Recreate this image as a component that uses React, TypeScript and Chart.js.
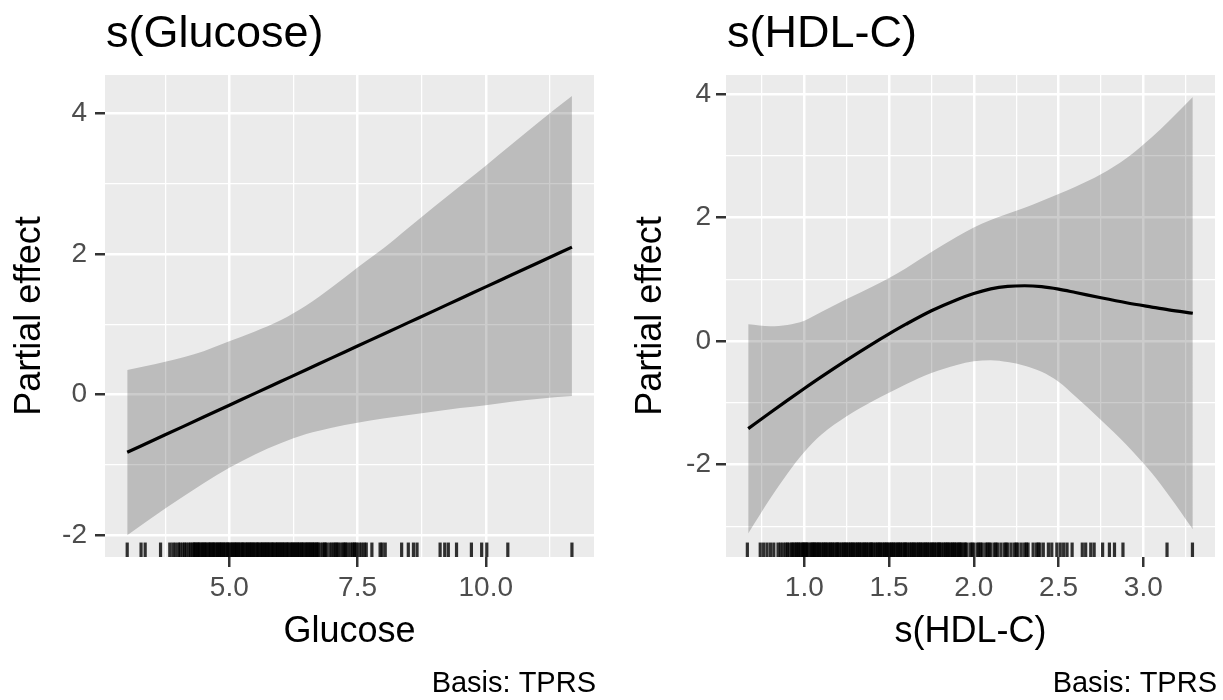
import React, { useEffect, useRef } from "react";
import { Chart, registerables } from "chart.js";

Chart.register(...registerables);

const FONT = '"Liberation Sans", Arial, Helvetica, sans-serif';

// ---------- s(Glucose) ----------
const glucoseX = [3.01, 3.75, 4.5, 5.0, 5.5, 6.0, 6.5, 7.0, 7.5, 8.0, 8.5, 9.0, 9.5, 10.0, 10.5, 11.0, 11.68];
const glucoseFit = [-0.82, -0.571, -0.318, -0.15, 0.019, 0.187, 0.355, 0.524, 0.692, 0.861, 1.029, 1.197, 1.366, 1.534, 1.703, 1.871, 2.1];
const glucoseUpper = [0.35, 0.47, 0.62, 0.76, 0.9, 1.06, 1.27, 1.53, 1.81, 2.08, 2.38, 2.68, 2.97, 3.26, 3.56, 3.86, 4.25];
const glucoseLower = [-2.0, -1.62, -1.26, -1.04, -0.85, -0.69, -0.56, -0.47, -0.4, -0.34, -0.29, -0.24, -0.19, -0.15, -0.1, -0.06, -0.02];
const glucoseRug = [
  3.01, 3.28, 3.36, 3.66, 3.84, 3.9, 3.95, 4.01, 4.04, 4.09, 4.13, 4.16, 4.21, 4.24, 4.28, 4.31, 4.34, 4.38,
  4.41, 4.45, 4.49, 4.52, 4.56, 4.6, 4.63, 4.67, 4.7, 4.74, 4.78, 4.81, 4.85, 4.88, 4.92, 4.96, 4.99, 5.03,
  5.07, 5.1, 5.14, 5.17, 5.21, 5.25, 5.28, 5.32, 5.36, 5.39, 5.43, 5.46, 5.5, 5.54, 5.57, 5.61, 5.65, 5.68,
  5.72, 5.75, 5.79, 5.83, 5.86, 5.9, 5.94, 5.97, 6.01, 6.04, 6.08, 6.12, 6.15, 6.19, 6.23, 6.26, 6.3, 6.33,
  6.37, 6.41, 6.44, 6.48, 6.52, 6.55, 6.59, 6.62, 6.66, 6.7, 6.73, 6.77, 6.82, 6.87, 6.9, 6.96, 7.0, 7.04,
  7.1, 7.13, 7.18, 7.22, 7.27, 7.31, 7.36, 7.4, 7.45, 7.48, 7.53, 7.58, 7.63, 7.67, 7.78, 7.94, 7.98, 8.04,
  8.36, 8.49, 8.59, 8.66, 9.11, 9.2, 9.27, 9.43, 9.72, 9.92, 10.02, 10.43, 11.68,
  4.33, 4.4, 4.47, 4.54, 4.62, 4.69, 4.76, 4.83, 4.9, 4.97, 5.05, 5.12, 5.19, 5.26, 5.34, 5.41, 5.48, 5.55,
  5.63, 5.7, 5.77, 5.84, 5.92, 5.99, 6.06, 6.13, 6.21, 6.28, 6.35, 6.42, 6.5, 6.57, 6.64, 6.71, 6.85, 7.07,
  7.25, 7.43,
];
const glucoseXMajor = [5, 7.5, 10];
const glucoseXMinor = [3.75, 6.25, 8.75, 11.25];
const glucoseYMajor = [-2, 0, 2, 4];
const glucoseYMinor = [-1, 1, 3];

// ---------- s(HDL-C) ----------
const hdlX = [0.669, 0.8, 0.9, 1.0, 1.1, 1.25, 1.4, 1.5, 1.6, 1.75, 1.9, 2.0, 2.1, 2.2, 2.3, 2.4, 2.5, 2.6, 2.75, 2.9, 3.05, 3.15, 3.292];
const hdlFit = [-1.42, -1.158, -0.962, -0.77, -0.582, -0.31, -0.05, 0.115, 0.272, 0.49, 0.67, 0.77, 0.845, 0.885, 0.895, 0.88, 0.84, 0.785, 0.7, 0.62, 0.55, 0.505, 0.45];
const hdlUpper = [0.27, 0.24, 0.26, 0.33, 0.47, 0.68, 0.88, 1.02, 1.18, 1.44, 1.69, 1.84, 1.96, 2.06, 2.16, 2.27, 2.38, 2.5, 2.7, 2.96, 3.3, 3.56, 3.955];
const hdlLower = [-3.12, -2.55, -2.15, -1.8, -1.52, -1.22, -0.98, -0.84, -0.7, -0.52, -0.39, -0.33, -0.31, -0.34, -0.4, -0.5, -0.66, -0.9, -1.28, -1.68, -2.14, -2.5, -3.05];
const hdlRug = [
  0.664, 0.74, 0.76, 0.78, 0.8, 0.82, 0.845, 0.86, 0.875, 0.89, 0.9, 0.91, 0.925, 0.94, 0.955, 0.97, 0.98,
  0.995, 1.01, 1.02, 1.035, 1.05, 1.06, 1.075, 1.09, 1.1, 1.115, 1.13, 1.14, 1.155, 1.17, 1.18, 1.195, 1.21,
  1.22, 1.235, 1.25, 1.26, 1.275, 1.29, 1.3, 1.315, 1.33, 1.34, 1.355, 1.37, 1.38, 1.395, 1.41, 1.42, 1.435,
  1.45, 1.46, 1.475, 1.49, 1.5, 1.515, 1.53, 1.54, 1.555, 1.57, 1.58, 1.595, 1.61, 1.62, 1.635, 1.65, 1.66,
  1.675, 1.69, 1.7, 1.715, 1.73, 1.74, 1.755, 1.77, 1.78, 1.795, 1.81, 1.82, 1.835, 1.85, 1.86, 1.875, 1.89,
  1.9, 1.915, 1.93, 1.945, 1.96, 1.98, 2.0, 2.02, 2.03, 2.05, 2.07, 2.09, 2.1, 2.12, 2.14, 2.16, 2.18, 2.2,
  2.22, 2.24, 2.26, 2.28, 2.3, 2.32, 2.35, 2.37, 2.39, 2.41, 2.44, 2.46, 2.49, 2.51, 2.53, 2.55, 2.58, 2.64,
  2.66, 2.69, 2.71, 2.76, 2.8, 2.83, 2.88, 3.14, 3.29,
  0.93, 0.95, 0.965, 0.99, 1.0, 1.015, 1.04, 1.055, 1.07, 1.085, 1.11, 1.125, 1.15, 1.165, 1.19, 1.2, 1.23,
  1.245, 1.27, 1.285, 1.31, 1.325, 1.35, 1.365, 1.39, 1.4, 1.43, 1.445, 1.47, 1.485, 1.51, 1.525, 1.55,
  1.565, 1.59, 1.6, 1.63, 1.645, 1.67, 1.685, 1.71, 1.725, 1.75, 1.765, 1.79, 1.8, 1.83, 1.845, 1.87, 1.885,
  1.91, 1.925, 1.95, 1.99, 2.04, 2.08, 2.13, 2.19, 2.25, 2.31, 2.38,
];
const hdlXMajor = [1, 1.5, 2, 2.5, 3];
const hdlXMinor = [0.75, 1.25, 1.75, 2.25, 2.75, 3.25];
const hdlYMajor = [-2, 0, 2, 4];
const hdlYMinor = [-3, -1, 1, 3];

type Spec = {
  title: string;
  xTitle: string;
  caption: string;
  x: number[];
  fit: number[];
  upper: number[];
  lower: number[];
  rug: number[];
  xMajor: number[];
  xMinor: number[];
  yMajor: number[];
  yMinor: number[];
  xMin: number;
  xMax: number;
  yMin: number;
  yMax: number;
  left: number;
  width: number;
  rightPad: number;
  yTickPad: number;
};

const HEIGHT = 700;

const specs: Spec[] = [
  {
    title: "s(Glucose)",
    xTitle: "Glucose",
    caption: "Basis: TPRS",
    x: glucoseX,
    fit: glucoseFit,
    upper: glucoseUpper,
    lower: glucoseLower,
    rug: glucoseRug,
    xMajor: glucoseXMajor,
    xMinor: glucoseXMinor,
    yMajor: glucoseYMajor,
    yMinor: glucoseYMinor,
    xMin: 2.577,
    xMax: 12.11,
    yMin: -2.31,
    yMax: 4.55,
    left: 0,
    width: 611,
    rightPad: 17,
    yTickPad: 8,
  },
  {
    title: "s(HDL-C)",
    xTitle: "s(HDL-C)",
    caption: "Basis: TPRS",
    x: hdlX,
    fit: hdlFit,
    upper: hdlUpper,
    lower: hdlLower,
    rug: hdlRug,
    xMajor: hdlXMajor,
    xMinor: hdlXMinor,
    yMajor: hdlYMajor,
    yMinor: hdlYMinor,
    xMin: 0.538,
    xMax: 3.423,
    yMin: -3.5,
    yMax: 4.31,
    left: 621,
    width: 602,
    rightPad: 8,
    yTickPad: 5,
  },
];

const isIn = (list: number[], v: number) => list.some((m) => Math.abs(m - v) < 1e-9);

function makeConfig(s: Spec): any {
  const pts = (ys: number[]) => s.x.map((x, i) => ({ x, y: ys[i] }));
  const xTicks = [...s.xMinor, ...s.xMajor].sort((a, b) => a - b);
  const yTicks = [...s.yMinor, ...s.yMajor].sort((a, b) => a - b);

  const gridFor = (major: number[]) => ({
    color: "#FFFFFF",
    lineWidth: (c: any) => (c.tick && isIn(major, c.tick.value) ? 2.5 : 1.25),
    drawTicks: true,
    tickLength: 10,
    tickWidth: 2.5,
    tickColor: (c: any) => (c.tick && isIn(major, c.tick.value) ? "#333333" : "rgba(0,0,0,0)"),
  });

  const bgPlugin = {
    id: "panelBg",
    beforeDraw(chart: any) {
      const { ctx, chartArea: a } = chart;
      ctx.save();
      ctx.fillStyle = "#FFFFFF";
      ctx.fillRect(0, 0, chart.width, chart.height);
      ctx.fillStyle = "#EBEBEB";
      ctx.fillRect(a.left, a.top, a.right - a.left, a.bottom - a.top);
      ctx.restore();
    },
  };

  const rugPlugin = {
    id: "rug",
    afterDraw(chart: any) {
      const { ctx, chartArea: a, scales } = chart;
      const len = (a.bottom - a.top) * 0.03;
      const w = 3.2;
      ctx.save();
      ctx.fillStyle = "rgba(0,0,0,0.8)";
      for (const v of s.rug) {
        const px = scales.x.getPixelForValue(v);
        ctx.fillRect(px - w / 2, a.bottom - len, w, len);
      }
      ctx.restore();
    },
  };

  const textPlugin = {
    id: "texts",
    afterDraw(chart: any) {
      const { ctx, chartArea: a } = chart;
      ctx.save();
      ctx.fillStyle = "#000000";
      ctx.textBaseline = "alphabetic";
      ctx.textAlign = "left";
      ctx.font = `45px ${FONT}`;
      ctx.fillText(s.title, a.left + 1, 47);
      ctx.textAlign = "right";
      ctx.font = `29px ${FONT}`;
      ctx.fillText(s.caption, a.right + 2, 692);
      ctx.restore();
    },
  };

  return {
    type: "line",
    data: {
      datasets: [
        {
          data: pts(s.upper),
          fill: "+1",
          backgroundColor: "rgba(0,0,0,0.2)",
          borderColor: "rgba(0,0,0,0)",
          borderWidth: 0,
          pointRadius: 0,
          cubicInterpolationMode: "monotone",
          order: 1,
        },
        {
          data: pts(s.lower),
          fill: false,
          backgroundColor: "rgba(0,0,0,0)",
          borderColor: "rgba(0,0,0,0)",
          borderWidth: 0,
          pointRadius: 0,
          cubicInterpolationMode: "monotone",
          order: 2,
        },
        {
          data: pts(s.fit),
          fill: false,
          borderColor: "#000000",
          borderWidth: 3.2,
          pointRadius: 0,
          cubicInterpolationMode: "monotone",
          order: 0,
        },
      ],
    },
    options: {
      responsive: false,
      animation: false,
      events: [],
      layout: { padding: { top: 75, right: s.rightPad, left: 0, bottom: 0 } },
      plugins: {
        legend: { display: false },
        tooltip: { enabled: false },
        title: { display: false },
      },
      scales: {
        x: {
          type: "linear",
          min: s.xMin,
          max: s.xMax,
          afterBuildTicks: (sc: any) => {
            sc.ticks = xTicks.map((v) => ({ value: v }));
          },
          afterFit: (sc: any) => {
            sc.height = HEIGHT - 557;
          },
          grid: gridFor(s.xMajor),
          border: { display: false },
          ticks: {
            autoSkip: false,
            maxRotation: 0,
            minRotation: 0,
            padding: 4,
            color: "#4D4D4D",
            font: { size: 28, family: FONT },
            callback: (v: any) => (isIn(s.xMajor, Number(v)) ? Number(v).toFixed(1) : ""),
          },
          title: {
            display: true,
            text: s.xTitle,
            color: "#000000",
            font: { size: 36, family: FONT },
            padding: { top: 0, bottom: 46 },
          },
        },
        y: {
          type: "linear",
          min: s.yMin,
          max: s.yMax,
          afterBuildTicks: (sc: any) => {
            sc.ticks = yTicks.map((v) => ({ value: v }));
          },
          afterFit: (sc: any) => {
            sc.width = 105;
          },
          grid: gridFor(s.yMajor),
          border: { display: false },
          ticks: {
            autoSkip: false,
            padding: s.yTickPad,
            color: "#4D4D4D",
            font: { size: 28, family: FONT },
            callback: (v: any) => (isIn(s.yMajor, Number(v)) ? String(Number(v)) : ""),
          },
          title: {
            display: true,
            text: "Partial effect",
            color: "#000000",
            font: { size: 36, family: FONT },
            padding: { top: 8.5, bottom: 0 },
          },
        },
      },
    },
    plugins: [bgPlugin, rugPlugin, textPlugin],
  };
}

function Panel({ spec }: { spec: Spec }) {
  const ref = useRef<HTMLCanvasElement | null>(null);
  useEffect(() => {
    if (!ref.current) return;
    const chart = new Chart(ref.current, makeConfig(spec));
    return () => chart.destroy();
  }, [spec]);
  return (
    <canvas
      ref={ref}
      width={spec.width}
      height={HEIGHT}
      style={{ position: "absolute", left: spec.left, top: 0, width: spec.width, height: HEIGHT }}
    />
  );
}

export default function App() {
  return (
    <div
      style={{
        position: "absolute",
        left: 0,
        top: 0,
        width: 1223,
        height: HEIGHT,
        background: "#FFFFFF",
        overflow: "hidden",
      }}
    >
      {specs.map((s) => (
        <Panel key={s.title} spec={s} />
      ))}
    </div>
  );
}
